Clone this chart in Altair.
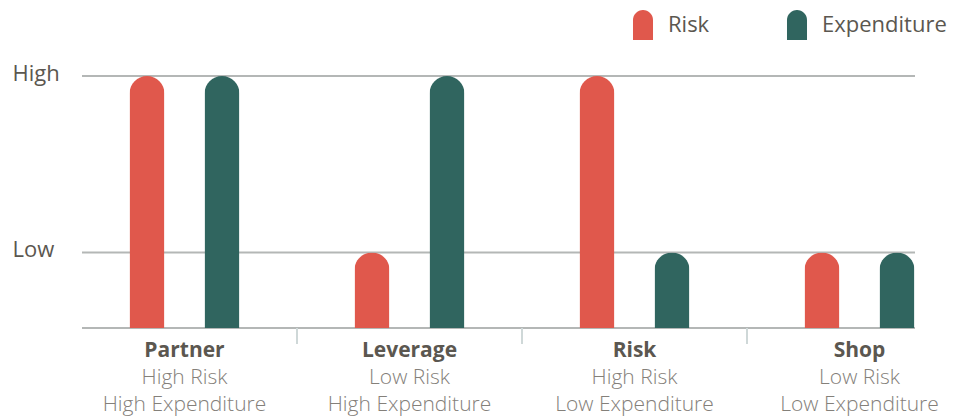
import altair as alt
import pandas as pd

categories = ["Partner", "Leverage", "Risk", "Shop"]
subtitles = ["High Risk\nHigh Expenditure", "Low Risk\nHigh Expenditure",
             "High Risk\nLow Expenditure", "Low Risk\nLow Expenditure"]
series = ["Risk", "Expenditure"]
risk_vals = [100, 30, 100, 30]
exp_vals = [100, 100, 30, 30]
dividers = ["Leverage", "Risk", "Shop"]
grid_levels = [0, 30, 100]

rows = []
for c, r, e in zip(categories, risk_vals, exp_vals):
    rows.append({"cat": c, "series": "Risk", "value": r})
    rows.append({"cat": c, "series": "Expenditure", "value": e})
bars_df = pd.DataFrame(rows)
labels_df = pd.DataFrame({"cat": categories, "sub": subtitles})
div_df = pd.DataFrame({"cat": dividers})
grid_df = pd.DataFrame({"value": grid_levels})

FONT = "Open Sans"
DARK = "#5b5750"
LIGHT = "#84807a"
W, H = 833, 252

xscale = alt.Scale(domain=categories, range=[-10, 890], paddingInner=0, paddingOuter=0)
yscale = alt.Scale(domain=[0, 100], nice=False)
legend_path = "M-0.667,1V-0.333A0.667,0.667,0,0,1,0.667,-0.333V1Z"

grid = alt.Chart(grid_df).mark_rule(color="#b4b7b6", strokeWidth=2).encode(
    y=alt.Y("value:Q", scale=yscale,
            axis=alt.Axis(values=grid_levels, title=None, domain=False, ticks=False, grid=False,
                          labelExpr="datum.value == 100 ? 'High' : datum.value == 30 ? 'Low' : ''",
                          labelAlign="left", labelPadding=70, labelBaseline="middle",
                          labelOffset=-3,
                          labelFont=FONT, labelFontSize=22, labelColor=DARK)),
    x=alt.value(0),
    x2=alt.value(W),
)

bars = alt.Chart(bars_df).mark_bar(
    width=35, cornerRadiusTopLeft=17.5, cornerRadiusTopRight=17.5
).encode(
    x=alt.X("cat:N", scale=xscale, axis=None, sort=categories),
    xOffset=alt.XOffset("series:N", sort=series,
                        scale=alt.Scale(domain=series, paddingInner=0, paddingOuter=0.5)),
    y=alt.Y("value:Q", scale=yscale),
    color=alt.Color("series:N", sort=series,
                    scale=alt.Scale(domain=series, range=["#e0584c", "#30655f"]),
                    legend=alt.Legend(title=None, orient="none", direction="horizontal",
                                      legendX=546, legendY=-66,
                                      symbolType=legend_path, symbolSize=900,
                                      symbolStrokeWidth=0, symbolOpacity=1,
                                      labelFont=FONT, labelFontSize=22, labelColor=DARK,
                                      labelOffset=10, columnPadding=72)),
)

divs = alt.Chart(div_df).mark_rule(color="#cfd8d8", strokeWidth=2).encode(
    x=alt.X("cat:N", scale=xscale, bandPosition=0, sort=categories, axis=None),
    y=alt.value(H),
    y2=alt.value(H + 16),
)

names = alt.Chart(labels_df).mark_text(
    font=FONT, fontSize=21, fontWeight="bold", color=DARK, baseline="alphabetic"
).encode(
    x=alt.X("cat:N", scale=xscale, sort=categories, axis=None),
    y=alt.value(H + 29),
    text="cat:N",
)

subs = alt.Chart(labels_df).mark_text(
    font=FONT, fontSize=21, fontWeight=300, color=LIGHT, baseline="alphabetic",
    lineBreak="\n", lineHeight=27
).encode(
    x=alt.X("cat:N", scale=xscale, sort=categories, axis=None),
    y=alt.value(H + 56),
    text="sub:N",
)

chart = alt.layer(grid, bars, divs, names, subs).properties(
    width=W, height=H,
    background="white",
    autosize=alt.AutoSizeParams(type="none"),
    padding={"left": 82, "top": 76, "right": 51, "bottom": 89},
).configure_view(stroke=None)

chart.save("out.html", embed_options={"renderer": "svg", "actions": False})
